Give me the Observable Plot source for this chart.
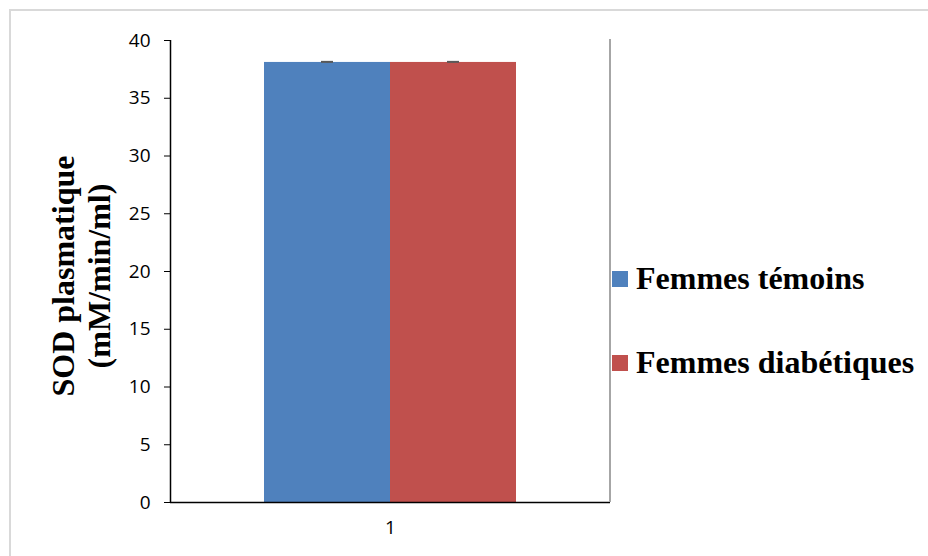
<!DOCTYPE html>
<html>
<head>
<meta charset="utf-8">
<script src="https://cdn.jsdelivr.net/npm/d3@7"></script>
<script src="https://cdn.jsdelivr.net/npm/@observablehq/plot@0.6"></script>
<style>
  body { margin: 0; background: #fff; }
  #wrap { position: relative; width: 928px; height: 556px; overflow: hidden; background: #fff; }
  #border { position: absolute; left: 9px; top: 9px; width: 960px; height: 600px;
            border-top: 2px solid #d9d9d9; border-left: 2px solid #d9d9d9; }
  #chart { position: absolute; left: 0; top: 0; }
  #chart svg text { font-family: "Open Sans", "Liberation Sans", sans-serif !important; font-size: 19px !important; fill: #000; }
  #ylabel { position: absolute; left: -69px; top: 240px; width: 300px; height: 72px;
            transform: rotate(-90deg); transform-origin: 150px 36px;
            font: bold 32px "Liberation Serif", "Times New Roman", serif; line-height: 36px;
            text-align: center; color: #000; white-space: nowrap; }
  .leg { position: absolute; left: 612px; font: bold 32px "Liberation Serif", "Times New Roman", serif;
         line-height: 36px; color: #000; white-space: nowrap; }
  .leg i { display: inline-block; width: 16px; height: 16px; margin-right: 8px; margin-bottom: 2px;
           vertical-align: baseline; }
</style>
</head>
<body>
<div id="wrap">
  <div id="border"></div>
  <div id="chart"></div>
  <div id="ylabel"></div>
  <div id="legend"></div>
</div>
<script>
// Category along the x axis, the two groups compared, and their SOD values
const groups = ["1"];
const series = ["Femmes témoins", "Femmes diabétiques"];
const sodValues = [38.1, 38.1];
const sodErrors = [0.05, 0.05];
const seriesColors = ["#4F81BD", "#C0504D"];
const yTicks = [0, 5, 10, 15, 20, 25, 30, 35, 40];
const yLabelLines = ["SOD plasmatique", "(mM/min/ml)"];

const rows = series.map((s, i) => ({series: s, value: sodValues[i], error: sodErrors[i]}));

const chart = Plot.plot({
  width: 928,
  height: 556,
  marginLeft: 170,
  marginRight: 318,
  marginTop: 40,
  marginBottom: 54,
  style: {fontFamily: '"Open Sans", "Liberation Sans", sans-serif', fontSize: "19px", color: "#000", background: "transparent"},
  x: {domain: series, paddingInner: 0, paddingOuter: 0.746, axis: null},
  y: {domain: [0, 40], axis: null},
  color: {domain: series, range: seriesColors},
  marks: [
    Plot.barY(rows, {x: "series", y: "value", fill: "series"}),
    Plot.ruleX(rows, {x: "series", y1: d => d.value - d.error, y2: d => d.value + d.error, stroke: "#595959", strokeWidth: 1.5}),
    Plot.tickY(rows, {x: "series", y: d => d.value + d.error, stroke: "#595959", strokeWidth: 2, insetLeft: 57, insetRight: 57}),
    Plot.ruleY([0], {stroke: "#000", strokeWidth: 1.5}),
    Plot.axisY({ticks: yTicks, tickSize: 6, tickPadding: 14, label: null, stroke: "#000", fontSize: 19}),
    Plot.text(groups, {text: d => d, frameAnchor: "bottom", dy: 31, fill: "#000", fontSize: 19})
  ]
});
document.getElementById("chart").append(chart);

// Axis line on the left and the thin grey edge on the right of the plot area
const y = chart.scale("y");
const svg = d3.select(chart);
svg.append("line")
  .attr("x1", 170.5).attr("x2", 170.5)
  .attr("y1", y.apply(40)).attr("y2", y.apply(0) + 0.75)
  .attr("stroke", "#000").attr("stroke-width", 1.5);
svg.append("line")
  .attr("x1", 610).attr("x2", 610)
  .attr("y1", y.apply(40) - 1).attr("y2", y.apply(0))
  .attr("stroke", "#a6a6a6").attr("stroke-width", 2);

// Two-line y-axis title
document.getElementById("ylabel").innerHTML = yLabelLines.join("<br>");

// Legend
const legend = document.getElementById("legend");
const legendTops = [260, 344];
series.forEach((s, i) => {
  const row = document.createElement("div");
  row.className = "leg";
  row.style.top = legendTops[i] + "px";
  const sw = document.createElement("i");
  sw.style.background = seriesColors[i];
  row.append(sw, document.createTextNode(s));
  legend.append(row);
});
</script>
</body>
</html>
